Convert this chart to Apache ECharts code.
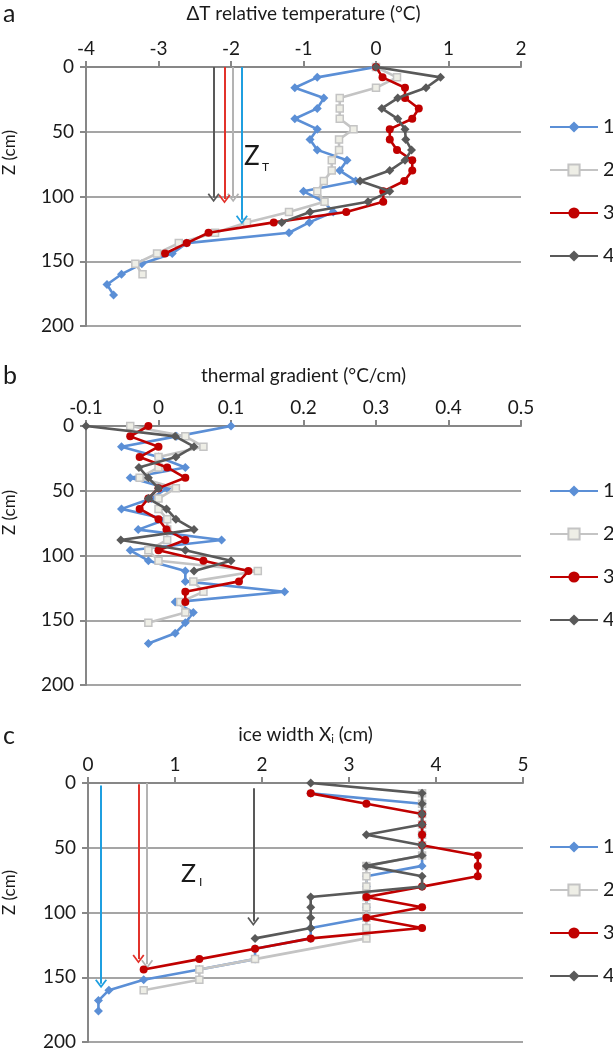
<!DOCTYPE html>
<html><head><meta charset="utf-8">
<script src="https://cdn.jsdelivr.net/npm/echarts@6/dist/echarts.min.js"></script>
<style>html,body{margin:0;padding:0;background:#fff}#c{width:613px;height:1054px}</style>
</head><body><div id="c"></div>
<script>
// depth of each measurement (cm)
const depths = [0,8,16,24,32,40,48,56,64,72,80,88,96,104,112,120,128,136,144,152,160,168,176];
const seriesNames = ['1','2','3','4'];

// panel a : ΔT relative temperature (°C)
const tempS1 = [0,-0.81,-1.12,-0.72,-0.81,-1.12,-0.81,-0.91,-0.81,-0.40,-0.50,-0.28,-1.00,-0.72,-0.59,-0.92,-1.20,-2.61,-2.81,-3.23,-3.51,-3.71,-3.62];
const tempS2 = [0,0.29,0.0,-0.50,-0.50,-0.50,-0.31,-0.51,-0.51,-0.61,-0.61,-0.72,-0.81,-0.71,-1.20,-1.78,-2.22,-2.72,-3.02,-3.32,-3.22];
const tempS3 = [0,0.09,0.40,0.40,0.59,0.50,0.19,0.19,0.29,0.50,0.50,0.39,0.10,0.10,-0.41,-1.41,-2.31,-2.61,-2.91];
const tempS4 = [0,0.89,0.69,0.30,0.08,0.30,0.40,0.41,0.49,0.40,0.19,-0.22,0.19,-0.11,-0.91,-1.30];
const tempTicks = [-4,-3,-2,-1,0,1,2];
const tempArrowX = [-1.85,-1.97,-2.09,-2.24];
const tempArrowStart = [0,0,0,0];
const tempArrowEnd = [118,101,102,101];

// panel b : thermal gradient (°C/cm)
const gradS1 = [0.10,0.025,-0.051,0.0,0.037,-0.039,0.012,-0.01,-0.051,0.011,-0.028,0.087,-0.039,-0.014,0.037,0.037,0.174,0.023,0.048,0.037,0.023,-0.014];
const gradS2 = [-0.039,0.037,0.062,0.0,0.0,-0.026,0.024,0.0,0.0,0.012,0.012,0.012,-0.014,0.0,0.137,0.048,0.062,0.03,0.037,-0.014];
const gradS3 = [-0.014,-0.039,0.0,-0.026,0.012,0.037,0.0,-0.014,-0.026,0.0,0.011,0.037,0.0,0.062,0.124,0.111,0.037,0.037];
const gradS4 = [-0.10,0.023,0.049,0.024,-0.027,-0.014,0.0,-0.014,0.011,0.024,0.049,-0.052,0.037,0.10,0.049];
const gradTicks = [-0.1,0,0.1,0.2,0.3,0.4,0.5];

// panel c : ice width Xi (cm)
const iceS1 = [null,2.56,3.84,3.84,3.84,3.84,3.84,3.84,3.84,3.20,3.20,3.20,3.20,3.20,2.56,2.56,1.92,1.92,1.28,0.64,0.24,0.12,0.12];
const iceS2 = [null,3.84,3.84,3.84,3.84,3.84,3.84,3.84,3.20,3.20,3.20,3.20,3.20,3.20,3.20,3.20,null,1.92,1.28,1.28,0.64];
const iceS3 = [null,2.56,3.20,3.84,3.84,3.84,3.84,4.48,4.48,4.48,3.84,3.20,3.84,3.20,3.84,2.56,1.92,1.28,0.64];
const iceS4 = [2.56,3.84,3.84,3.84,3.84,3.20,3.84,3.84,3.20,3.84,3.84,2.56,2.56,2.56,2.56,1.92];
const iceTicks = [0,1,2,3,4,5];
const iceArrowX = [0.15,0.68,0.58,1.90];
const iceArrowStart = [2,0,1,4];
const iceArrowEnd = [155,140,136,107];

const depthTicks = [0,50,100,150,200];

// ---- styling ----
const FONT = 'Lato';
const TXT = '#1a1a1a';
const AX = '#878787';
const styles = [
  {color:'#5b8fd6', fill:'#5b8fd6', symbol:'diamond', size:9, bw:0},
  {color:'#c4c4c4', fill:'#eeeee6', symbol:'rect', size:7, bw:1.5},
  {color:'#c00000', fill:'#c00000', symbol:'circle', size:8, bw:0},
  {color:'#595959', fill:'#595959', symbol:'diamond', size:9, bw:0}
];
const arrowColors = ['#1f9fe0','#b3b3b3','#e2322b','#595959'];
const chevron = 'path://M5,0 L10,8.4 L8.8,9.4 L5,3 L1.2,9.4 L0,8.4 Z';

const grids = [
  {left:86, top:67, width:435, height:259},
  {left:86, top:426, width:435, height:259},
  {left:88, top:783, width:435, height:259}
];
const xNames = ['\u0394T relative temperature (\u00b0C)', 'thermal gradient (\u00b0C/cm)', 'ice width X{s|i} (cm)'];
const xTicks = [tempTicks, gradTicks, iceTicks];
const nameGaps = [44, 41, 38];

function xAxis(i){
  const t = xTicks[i];
  return {type:'value', gridIndex:i, position:'top', min:t[0], max:t[t.length-1],
    interval: +(t[1]-t[0]).toFixed(3),
    name: xNames[i], nameLocation:'middle', nameGap: nameGaps[i],
    nameTextStyle:{fontFamily:FONT, fontSize:19, color:TXT, rich:{s:{fontFamily:FONT, fontSize:11, color:TXT, padding:[9,0,0,0]}}},
    axisLine:{show:true, onZero:false, lineStyle:{color:AX, width:2}},
    axisTick:{show:true, inside:false, length:6, lineStyle:{color:AX, width:2}},
    axisLabel:{fontFamily:FONT, fontSize:19, color:TXT, margin:9, formatter: v => String(+v.toFixed(2))},
    splitLine:{show:false}};
}
function yAxis(i){
  return {type:'value', gridIndex:i, inverse:true, min:depthTicks[0], max:depthTicks[depthTicks.length-1],
    interval: depthTicks[1]-depthTicks[0],
    axisLine:{show:true, onZero:false, lineStyle:{color:AX, width:2}},
    axisTick:{show:true, length:6, lineStyle:{color:AX, width:2}},
    axisLabel:{fontFamily:FONT, fontSize:19, color:TXT, margin:12},
    splitLine:{show:true, lineStyle:{color:AX, width:1.6}}};
}
function mk(s, vals, gi, arrows){
  const st = styles[s];
  const data = [];
  vals.forEach((v,k)=>{ if(v!==null) data.push([v, depths[k]]); });
  const ser = {type:'line', name:seriesNames[s], xAxisIndex:gi, yAxisIndex:gi, data:data,
    symbol:st.symbol, symbolSize:st.size, showSymbol:true, showAllSymbol:true, animation:false, z:3+s,
    lineStyle:{color:st.color, width:2.6},
    itemStyle:{color:st.fill, borderColor:st.color, borderWidth:st.bw}};
  if(arrows){
    ser.markLine = {silent:true, animation:false, symbol:['none', chevron], symbolSize:[12,9],
      label:{show:false},
      lineStyle:{color:arrowColors[s], width:2, type:'solid'},
      emphasis:{disabled:true},
      data:[[{coord:[arrows.x[s], arrows.start[s]]},{coord:[arrows.x[s], arrows.end[s]]}]]};
  }
  return ser;
}
const tA = {x:tempArrowX, start:tempArrowStart, end:tempArrowEnd};
const iA = {x:iceArrowX, start:iceArrowStart, end:iceArrowEnd};
const series = [
  mk(0,tempS1,0,tA), mk(1,tempS2,0,tA), mk(2,tempS3,0,tA), mk(3,tempS4,0,tA),
  mk(0,gradS1,1), mk(1,gradS2,1), mk(2,gradS3,1), mk(3,gradS4,1),
  mk(0,iceS1,2,iA), mk(1,iceS2,2,iA), mk(2,iceS3,2,iA), mk(3,iceS4,2,iA)
];
function legend(top){
  return {top:top, left:544, orient:'vertical', itemWidth:48, itemHeight:14, itemGap:23,
    data:seriesNames, selectedMode:false,
    textStyle:{fontFamily:FONT, fontSize:20, color:TXT}};
}
function txt(t, x, y, size, rot){
  return {type:'text', left:x, top:y, rotation:rot||0,
    style:{text:t, font:size+'px '+FONT, fill:TXT}};
}
const option = {
  backgroundColor:'#fff',
  grid: grids,
  xAxis:[xAxis(0), xAxis(1), xAxis(2)],
  yAxis:[yAxis(0), yAxis(1), yAxis(2)],
  legend:[legend(112), legend(476), legend(832)],
  series: series,
  graphic:[
    txt('a', 3, 1, 25), txt('b', 3, 363, 25), txt('c', 3, 723, 25),
    {type:'text', x:1, y:175, rotation:Math.PI/2, style:{text:'Z (cm)', font:'17px '+FONT, fill:TXT}},
    {type:'text', x:1, y:535, rotation:Math.PI/2, style:{text:'Z (cm)', font:'17px '+FONT, fill:TXT}},
    {type:'text', x:1, y:915, rotation:Math.PI/2, style:{text:'Z (cm)', font:'17px '+FONT, fill:TXT}},
    txt('Z', 244, 144, 26), txt('T', 262, 161, 12),
    txt('Z', 181, 861, 25), txt('I', 199, 876, 12)
  ]
};
const chart = echarts.init(document.getElementById('c'), null, {renderer:'canvas'});
chart.setOption(option);
</script></body></html>
